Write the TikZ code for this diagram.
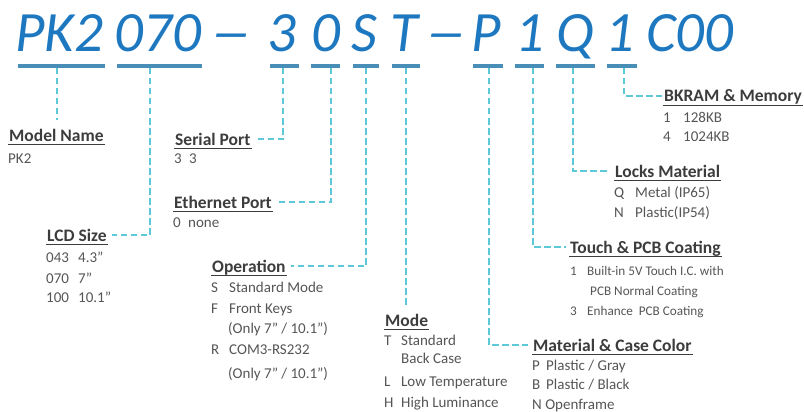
\documentclass[tikz,border=0pt]{standalone}
\usepackage{fontspec}
\setmainfont{Carlito}
\definecolor{pkblue}{RGB}{30,120,192}
\definecolor{barblue}{RGB}{72,142,182}
\definecolor{dashcyan}{RGB}{92,200,216}
\definecolor{hdrgray}{RGB}{60,60,60}
\definecolor{bodygray}{RGB}{85,85,85}
\newcommand\bodyline[4]{\node[body] (#1) at (#2,#3) {#4};}
\begin{document}
\begin{tikzpicture}[x=1pt,y=-1pt,
  code/.style={font=\fontsize{57}{57}\selectfont\itshape, text=pkblue, anchor=base, inner sep=0pt},
  bar/.style={fill=barblue, draw=none, rectangle, minimum height=3.5pt, inner sep=0pt},
  dl/.style={draw=dashcyan, line width=2.4pt, dash pattern=on 6.5pt off 3.5pt},
  hdr/.style={font=\fontsize{17.5}{18}\selectfont\bfseries, text=hdrgray, anchor=base west,
    inner xsep=1pt, inner ysep=2pt, text height=13pt, text depth=1pt},
  uline/.style={draw=hdrgray, line width=0.9pt},
  body/.style={font=\fontsize{15}{17}\selectfont, text=bodygray, anchor=base west, inner sep=0pt},
  tbody/.style={body, font=\fontsize{13.2}{15}\selectfont}]
\useasboundingbox (0,0) rectangle (804,412);
% code characters
\node[code] (t1) at (59,52) {PK2};
\node[code] (t2) at (158,52) {070};
\node[code] (t3) at (231,52) {\scalebox{1.45}[1]{–}};
\node[code] (t4) at (282,52) {3};
\node[code] (t5) at (326,52) {0};
\node[code] (t6) at (364,52) {S};
\node[code] (t7) at (404,52) {T};
\node[code] (t8) at (446,52) {\scalebox{1.45}[1]{–}};
\node[code] (t9) at (486,52) {P};
\node[code] (t10) at (530,52) {1};
\node[code] (t11) at (575,52) {Q};
\node[code] (t12) at (620,52) {1};
\node[code] (t13) at (690,52) {C00};
% bars
\node[bar, minimum width=87pt] (b1) at (61.5,66) {};
\node[bar, minimum width=85pt] (b2) at (159.5,66) {};
\node[bar, minimum width=29pt] (b3) at (284.5,66) {};
\node[bar, minimum width=29pt] (b4) at (325.5,66) {};
\node[bar, minimum width=26pt] (b5) at (366,66) {};
\node[bar, minimum width=28pt] (b6) at (406,66) {};
\node[bar, minimum width=30pt] (b7) at (488,66) {};
\node[bar, minimum width=29pt] (b8) at (529.5,66) {};
\node[bar, minimum width=39pt] (b9) at (575.5,66) {};
\node[bar, minimum width=30pt] (b10) at (622,66) {};
% connector start points under the bars
\coordinate (d1) at (57,68);
\coordinate (d2) at (150,68);
\coordinate (d3) at (283,68);
\coordinate (d4) at (331,68);
\coordinate (d5) at (366,68);
\coordinate (d6) at (406,68);
\coordinate (d7) at (489,68);
\coordinate (d8) at (533,68);
\coordinate (d9) at (573,68);
\coordinate (d10) at (624,68);
% headers
\node[hdr] (mn) at (8,141) {Model Name};
\node[hdr] (lcd) at (46,241) {LCD Size};
\node[hdr] (sp) at (174,145) {Serial Port};
\node[hdr] (ep) at (173,208) {Ethernet Port};
\node[hdr] (op) at (211,272) {Operation};
\node[hdr] (mode) at (384,326) {Mode};
\node[hdr] (mat) at (532,351) {Material \& Case Color};
\node[hdr] (tch) at (569,253) {Touch \& PCB Coating};
\node[hdr] (lk) at (614,177) {Locks Material};
\node[hdr] (bk) at (663,102) {BKRAM \& Memory};
\foreach \n in {mn,lcd,sp,ep,op,mode,mat,tch,lk,bk}
  \draw[uline] (\n.south west) -- (\n.south east);
% connectors
\draw[dl] (d1) -- (d1 |- 0,120);
\draw[dl, shorten >=4pt] (d2) |- (lcd.east);
\draw[dl, shorten >=4pt] (d3) |- (sp.east);
\draw[dl, shorten >=4pt] (d4) |- (ep.east);
\draw[dl, shorten >=4pt] (d5) |- (op.east);
\draw[dl] (d6) -- (d6 |- 0,308);
\draw[dl, shorten >=4pt] (d7) |- (mat.west);
\draw[dl, shorten >=3pt] (d8) |- (tch.west);
\draw[dl, shorten >=7pt] (d9) |- (lk.west);
\draw[dl, shorten >=1pt] (d10) |- (bk.west);
% body texts
\bodyline{mn1}{8}{163}{PK2}
\bodyline{lcd1}{46}{262}{\makebox[32pt][l]{043}4.3”}
\bodyline{lcd2}{46}{283}{\makebox[32pt][l]{070}7”}
\bodyline{lcd3}{46}{302}{\makebox[32pt][l]{100}10.1”}
\bodyline{sp1}{174}{164}{\makebox[15pt][l]{3}3}
\bodyline{ep1}{173}{227}{\makebox[15pt][l]{0}none}
\bodyline{op1}{211}{292}{\makebox[18pt][l]{S}Standard Mode}
\bodyline{op2}{211}{313}{\makebox[18pt][l]{F}Front Keys}
\bodyline{op3}{228}{333}{(Only 7” / 10.1”)}
\bodyline{op4}{211}{354}{\makebox[18pt][l]{R}COM3-RS232}
\bodyline{op5}{228}{378}{(Only 7” / 10.1”)}
\bodyline{mo1}{384}{345}{\makebox[17pt][l]{T}Standard}
\bodyline{mo2}{401}{363}{Back Case}
\bodyline{mo3}{384}{386}{\makebox[17pt][l]{L}Low Temperature}
\bodyline{mo4}{384}{407}{\makebox[17pt][l]{H}High Luminance}
\bodyline{ma1}{532}{370}{\makebox[14pt][l]{P}Plastic / Gray}
\bodyline{ma2}{532}{389}{\makebox[14pt][l]{B}Plastic / Black}
\bodyline{ma3}{532}{409}{N Openframe}
\node[tbody] (tc1) at (570,275) {\makebox[17pt][l]{1}Built-in 5V Touch I.C. with};
\node[tbody] (tc2) at (590,295) {PCB Normal Coating};
\node[tbody] (tc3) at (570,315) {\makebox[17pt][l]{3}Enhance\ \ PCB Coating};
\bodyline{lk1}{614}{197}{\makebox[21pt][l]{Q}Metal (IP65)}
\bodyline{lk2}{614}{217}{\makebox[21pt][l]{N}Plastic(IP54)}
\bodyline{bk1}{663}{122}{\makebox[20pt][l]{1}128KB}
\bodyline{bk2}{663}{142}{\makebox[20pt][l]{4}1024KB}
\end{tikzpicture}
\end{document}
